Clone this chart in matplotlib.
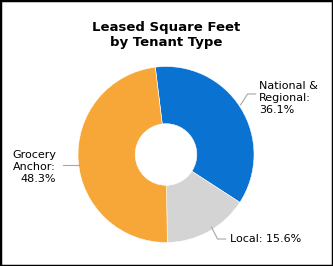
import numpy as np
import matplotlib.pyplot as plt
from matplotlib.patches import Rectangle

labels = ['National &\nRegional:', 'Local:', 'Grocery\nAnchor:']
shares = [36.1, 15.6, 48.3]
colors = ['#0a72d1', '#d4d4d4', '#f7a738']

W, H = 333, 266
fig = plt.figure(figsize=(W / 100, H / 100), dpi=100)
ax = fig.add_axes([0, 0, 1, 1])

cx, cy, r = 166, H - 154.5, 88
wedges, _ = ax.pie(shares, colors=colors, startangle=97, counterclock=False,
                   center=(cx, cy), radius=r,
                   wedgeprops=dict(width=r * 0.65, edgecolor='white', linewidth=0.4))
ax.set_xlim(0, W)
ax.set_ylim(0, H)
ax.axis('off')

fig.text(0.5, 1 - 35 / H, 'Leased Square Feet\nby Tenant Type', ha='center', va='center',
         fontsize=9.5, fontweight='bold', linespacing=1.2)

# leader lines from the wedge edge to the label
line_kw = dict(color='#a6a6a6', lw=0.8)
mids = [np.deg2rad((w.theta1 + w.theta2) / 2) for w in wedges]
pts = [(cx + r * np.cos(a), cy + r * np.sin(a)) for a in mids]

x0, y0 = pts[0]
ax.plot([x0, x0 + 7, x0 + 15], [y0 + 3, H - 94, H - 94], **line_kw)
ax.text(259, H - 98, f'{labels[0]}\n{shares[0]}%', ha='left', va='center', fontsize=8,
        linespacing=1.3)

x1, y1 = pts[1]
ax.plot([x1 + 3, x1 + 9, x1 + 17], [y1 + 4, H - 239, H - 239], **line_kw)
ax.text(230, H - 239, f'{labels[1]} {shares[1]}%', ha='left', va='center', fontsize=8)

ly = H - 165
ax.plot([cx - np.sqrt(r ** 2 - (ly - cy) ** 2), 63], [ly, ly], **line_kw)
ax.text(56, H - 167, f'{labels[2]}\n{shares[2]}%', ha='right', va='center', fontsize=8,
        linespacing=1.3, multialignment='right')

fig.patches.append(Rectangle((0, 0), 1, 1, transform=fig.transFigure, fill=False,
                             edgecolor='black', lw=2.5))

fig.savefig('out.png', dpi=100)
